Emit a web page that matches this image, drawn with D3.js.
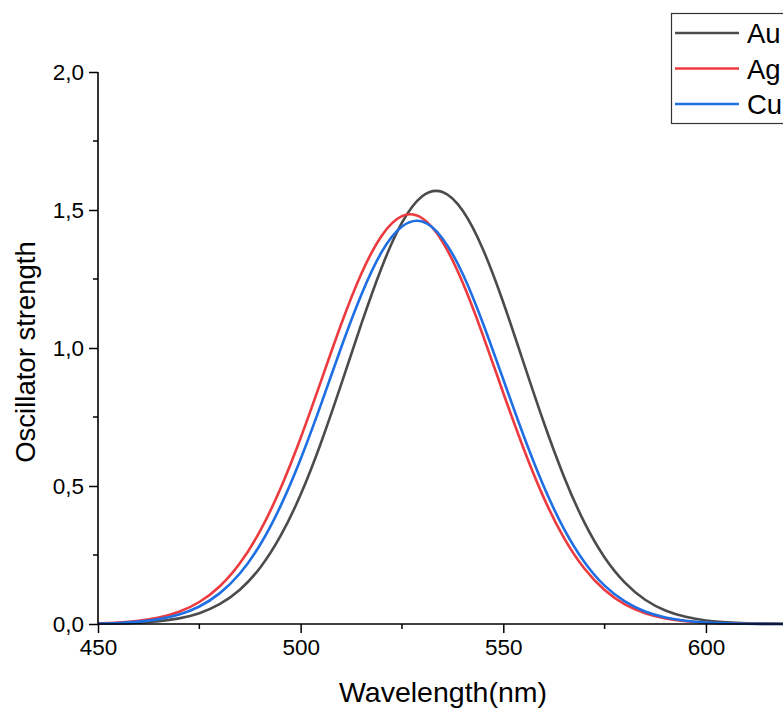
<!DOCTYPE html>
<html>
<head>
<meta charset="utf-8">
<script src="https://cdn.jsdelivr.net/npm/d3@7"></script>
<style>
  html, body { margin: 0; padding: 0; background: #fff; }
  svg { display: block; font-family: "Liberation Sans", Arial, sans-serif; }
</style>
</head>
<body>
<svg id="chart" width="783" height="710"></svg>
<script>
// ---- Data ----
const wavelengths = [450,455,460,465,470,475,480,485,490,495,500,505,510,515,520,525,530,535,540,545,550,555,560,565,570,575,580,585,590,595,600,605,610,615,620];
const auValues = [0.0008,0.0020,0.0046,0.0099,0.0203,0.0392,0.0718,0.124,0.204,0.318,0.469,0.656,0.868,1.088,1.292,1.454,1.550,1.565,1.497,1.357,1.165,0.947,0.730,0.533,0.368,0.241,0.150,0.088,0.0491,0.0259,0.0129,0.0061,0.0027,0.0012,0.0005];
const agValues = [0.0024,0.0054,0.0115,0.0232,0.0442,0.0797,0.136,0.220,0.337,0.490,0.674,0.879,1.086,1.270,1.407,1.478,1.470,1.385,1.236,1.045,0.837,0.636,0.457,0.311,0.201,0.123,0.071,0.039,0.0203,0.0100,0.0047,0.0021,0.0009,0.0003,0.0001];
const cuValues = [0.0017,0.0039,0.0086,0.0177,0.0344,0.0635,0.111,0.183,0.287,0.426,0.598,0.795,1.002,1.194,1.348,1.440,1.458,1.397,1.268,1.089,0.886,0.683,0.498,0.344,0.225,0.139,0.082,0.0453,0.0238,0.0119,0.0056,0.0025,0.0011,0.0004,0.0002];
const seriesNames = ["Au","Ag","Cu"];
const seriesColors = ["#4b4b4b","#ec3a3f","#1e6fe3"];
const xTicks = [450,500,550,600];
const xMinorTicks = [475,525,575];
const yTicks = [0,0.5,1.0,1.5,2.0];
const yMinorTicks = [0.25,0.75,1.25,1.75];
const yTickLabels = ["0,0","0,5","1,0","1,5","2,0"];
const xTitle = "Wavelength(nm)";
const yTitle = "Oscillator strength";

const svg = d3.select("#chart");
const mLeft = 98, mRight = 787, mTop = 72, mBottom = 624;

const x = d3.scaleLinear().domain([450, 620]).range([mLeft, mRight]);
const y = d3.scaleLinear().domain([0, 2]).range([mBottom, mTop]);

// Curves
const seriesData = [auValues, agValues, cuValues];
const line = d3.line()
  .x(d => x(d[0]))
  .y(d => y(d[1]))
  .curve(d3.curveNatural);

seriesData.forEach((vals, i) => {
  svg.append("path")
    .datum(wavelengths.map((w, j) => [w, vals[j]]))
    .attr("fill", "none")
    .attr("stroke", seriesColors[i])
    .attr("stroke-width", 2.6)
    .attr("stroke-linejoin", "round")
    .attr("d", line);
});

// X axis
const xAxis = svg.append("g").attr("transform", `translate(0,${mBottom})`)
  .call(d3.axisBottom(x).tickValues(xTicks).tickSize(9).tickPadding(6).tickFormat(d3.format("d")));
xAxis.append("g").selectAll("line").data(xMinorTicks).join("line")
  .attr("x1", d => x(d)).attr("x2", d => x(d)).attr("y1", 0).attr("y2", 5)
  .attr("stroke", "#000").attr("stroke-width", 1.5);

// Y axis
const yAxis = svg.append("g").attr("transform", `translate(${mLeft},0)`)
  .call(d3.axisLeft(y).tickValues(yTicks).tickSize(9).tickPadding(5).tickFormat((d, i) => yTickLabels[i]));
yAxis.append("g").selectAll("line").data(yMinorTicks).join("line")
  .attr("x1", 0).attr("x2", -5).attr("y1", d => y(d)).attr("y2", d => y(d))
  .attr("stroke", "#000").attr("stroke-width", 1.5);

[xAxis, yAxis].forEach(g => {
  g.select(".domain").attr("stroke", "#000").attr("stroke-width", 1.6);
  g.selectAll(".tick line").attr("stroke", "#000").attr("stroke-width", 1.5);
  g.selectAll(".tick text").attr("fill", "#000").style("font-size", "22.5px")
    .style("font-family", "'Liberation Sans', Arial, sans-serif");
});
yAxis.select(".domain").attr("d", `M0,${mBottom}V${mTop}`);
xAxis.select(".domain").attr("d", `M${mLeft},0H${mRight}`);

// Titles
svg.append("text")
  .attr("x", 443).attr("y", 702)
  .attr("text-anchor", "middle").style("font-size", "28.5px").attr("fill", "#000")
  .text(xTitle);
svg.append("text")
  .attr("transform", `translate(35,352) rotate(-90)`)
  .attr("text-anchor", "middle").style("font-size", "27.5px").attr("fill", "#000")
  .text(yTitle);

// Legend
const lg = svg.append("g");
lg.append("rect").attr("x", 671.5).attr("y", 13.5).attr("width", 140).attr("height", 110)
  .attr("fill", "#fff").attr("stroke", "#333").attr("stroke-width", 1.2);
seriesNames.forEach((name, i) => {
  const yy = 33 + i * 35.5;
  lg.append("line").attr("x1", 675).attr("x2", 739).attr("y1", yy).attr("y2", yy)
    .attr("stroke", seriesColors[i]).attr("stroke-width", 2.6);
  lg.append("text").attr("x", 747).attr("y", yy + 10)
    .style("font-size", "27.5px").attr("fill", "#000").text(name);
});
</script>
</body>
</html>
